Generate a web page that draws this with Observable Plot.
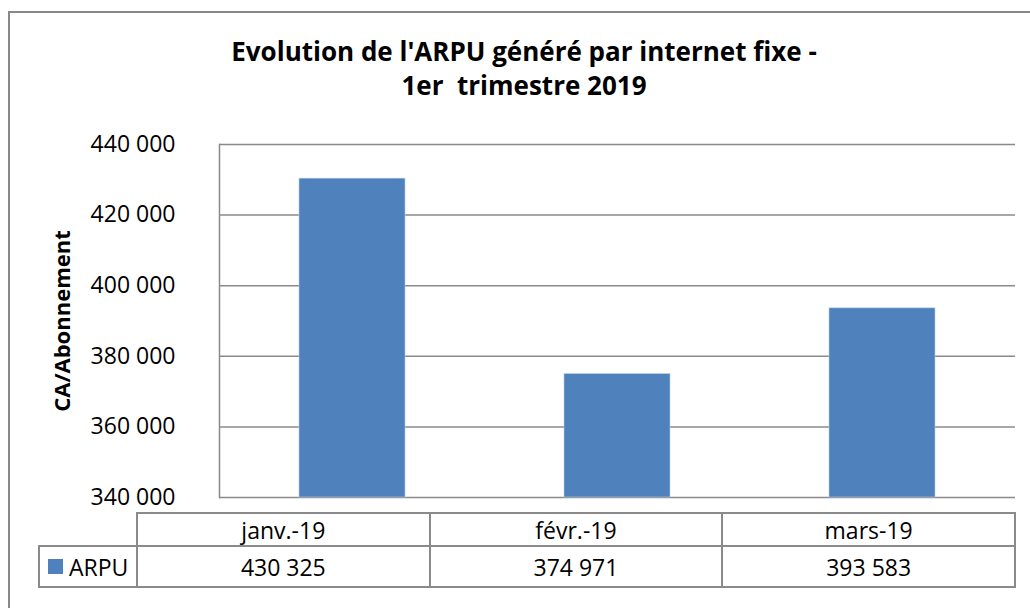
<!DOCTYPE html>
<html>
<head>
<meta charset="utf-8">
<script src="https://cdn.jsdelivr.net/npm/d3@7"></script>
<script src="https://cdn.jsdelivr.net/npm/@observablehq/plot@0.6"></script>
<style>
  html, body { margin: 0; padding: 0; background: #fff; overflow: hidden; }
  #wrap { position: relative; width: 1030px; height: 608px; overflow: hidden; font-family: "Open Sans", sans-serif; color: #000; }
  #frame { position: absolute; left: 8px; top: 11px; width: 1100px; height: 700px; border: 2px solid #898989; box-sizing: border-box; }
  #title { position: absolute; left: 0; width: 1048px; top: 34px; text-align: center; font-weight: bold; font-size: 26px; line-height: 34px; }
  #chart { position: absolute; left: 0; top: 0; }
  .cell { position: absolute; box-sizing: border-box; display: flex; align-items: center; justify-content: center; font-size: 23px; }
  .hl { position: absolute; background: #8a8a8a; }
</style>
</head>
<body>
<div id="wrap">
  <div id="frame"></div>
  <div id="chart"></div>
  <div id="title">Evolution de l'ARPU généré par internet fixe -<br>1er&nbsp; trimestre 2019</div>
</div>
<script>
const categories = ["janv.-19", "févr.-19", "mars-19"];
const arpu = [430325, 374971, 393583];
const seriesName = "ARPU";
const yTicks = [340000, 360000, 380000, 400000, 420000, 440000];
const yLabel = "CA/Abonnement";

const data = categories.map((c, i) => ({ month: c, value: arpu[i] }));
const fmt = v => d3.format(",")(v).replace(/,/g, " ");
const barColor = "#4F81BD";
const gridColor = "#8a8a8a";

const plot = Plot.plot({
  width: 1030,
  height: 608,
  marginLeft: 219,
  marginRight: 15,
  marginTop: 144,
  marginBottom: 111,
  style: { fontFamily: "Open Sans, sans-serif", background: "transparent", overflow: "visible" },
  x: { domain: categories, paddingInner: 0.6, paddingOuter: 0.3, axis: null },
  y: { domain: [340000, 440000], axis: null },
  marks: [
    Plot.ruleY(yTicks, { stroke: gridColor, strokeWidth: 1.5 }),
    Plot.barY(data, { x: "month", y1: 340000, y2: "value", fill: barColor, stroke: "#b9cde6", strokeWidth: 0.6 }),
    Plot.frame({ anchor: "left", stroke: gridColor, strokeWidth: 1.5 }),
    Plot.axisY({ ticks: yTicks, tickFormat: fmt, tickSize: 0, tickPadding: 44, fontSize: 23, label: null, fill: "#000" }),
    Plot.text([yLabel], { frameAnchor: "left", textAnchor: "middle", lineAnchor: "middle", rotate: -90, dx: -157, fontSize: 22, fontWeight: "bold", fill: "#000" })
  ]
});
document.getElementById("chart").appendChild(plot);

// data table below the chart
const wrap = d3.select("#wrap");
const tblLeft = 137, tblRight = 1015, legLeft = 39;
const rowTop = 513, rowMid = 546, rowBot = 587;
const colW = (tblRight - tblLeft) / categories.length;
const lw = 2;
function hline(x1, x2, y) { wrap.append("div").attr("class", "hl").style("left", x1 + "px").style("top", (y - lw/2) + "px").style("width", (x2 - x1 + lw/2) + "px").style("height", lw + "px"); }
function vline(x, y1, y2) { wrap.append("div").attr("class", "hl").style("left", (x - lw/2) + "px").style("top", (y1 - lw/2) + "px").style("width", lw + "px").style("height", (y2 - y1 + lw) + "px"); }
hline(tblLeft, tblRight, rowTop);
hline(legLeft, tblRight, rowMid);
hline(legLeft, tblRight, rowBot);
vline(legLeft, rowMid, rowBot);
for (let i = 0; i <= categories.length; i++) vline(tblLeft + i * colW, rowTop, rowBot);

categories.forEach((c, i) => {
  wrap.append("div").attr("class", "cell")
    .style("left", (tblLeft + i * colW) + "px").style("top", rowTop + "px")
    .style("width", colW + "px").style("height", (rowMid - rowTop) + "px")
    .text(c);
  wrap.append("div").attr("class", "cell")
    .style("left", (tblLeft + i * colW) + "px").style("top", rowMid + "px")
    .style("width", colW + "px").style("height", (rowBot - rowMid) + "px")
    .text(fmt(arpu[i]));
});
const leg = wrap.append("div").attr("class", "cell")
  .style("left", legLeft + "px").style("top", rowMid + "px")
  .style("width", (tblLeft - legLeft) + "px").style("height", (rowBot - rowMid) + "px")
  .style("justify-content", "flex-start").style("padding-left", "9px");
leg.append("span").style("display", "inline-block").style("width", "15px").style("height", "15px").style("background", barColor).style("margin-right", "6px");
leg.append("span").text(seriesName);
</script>
</body>
</html>
